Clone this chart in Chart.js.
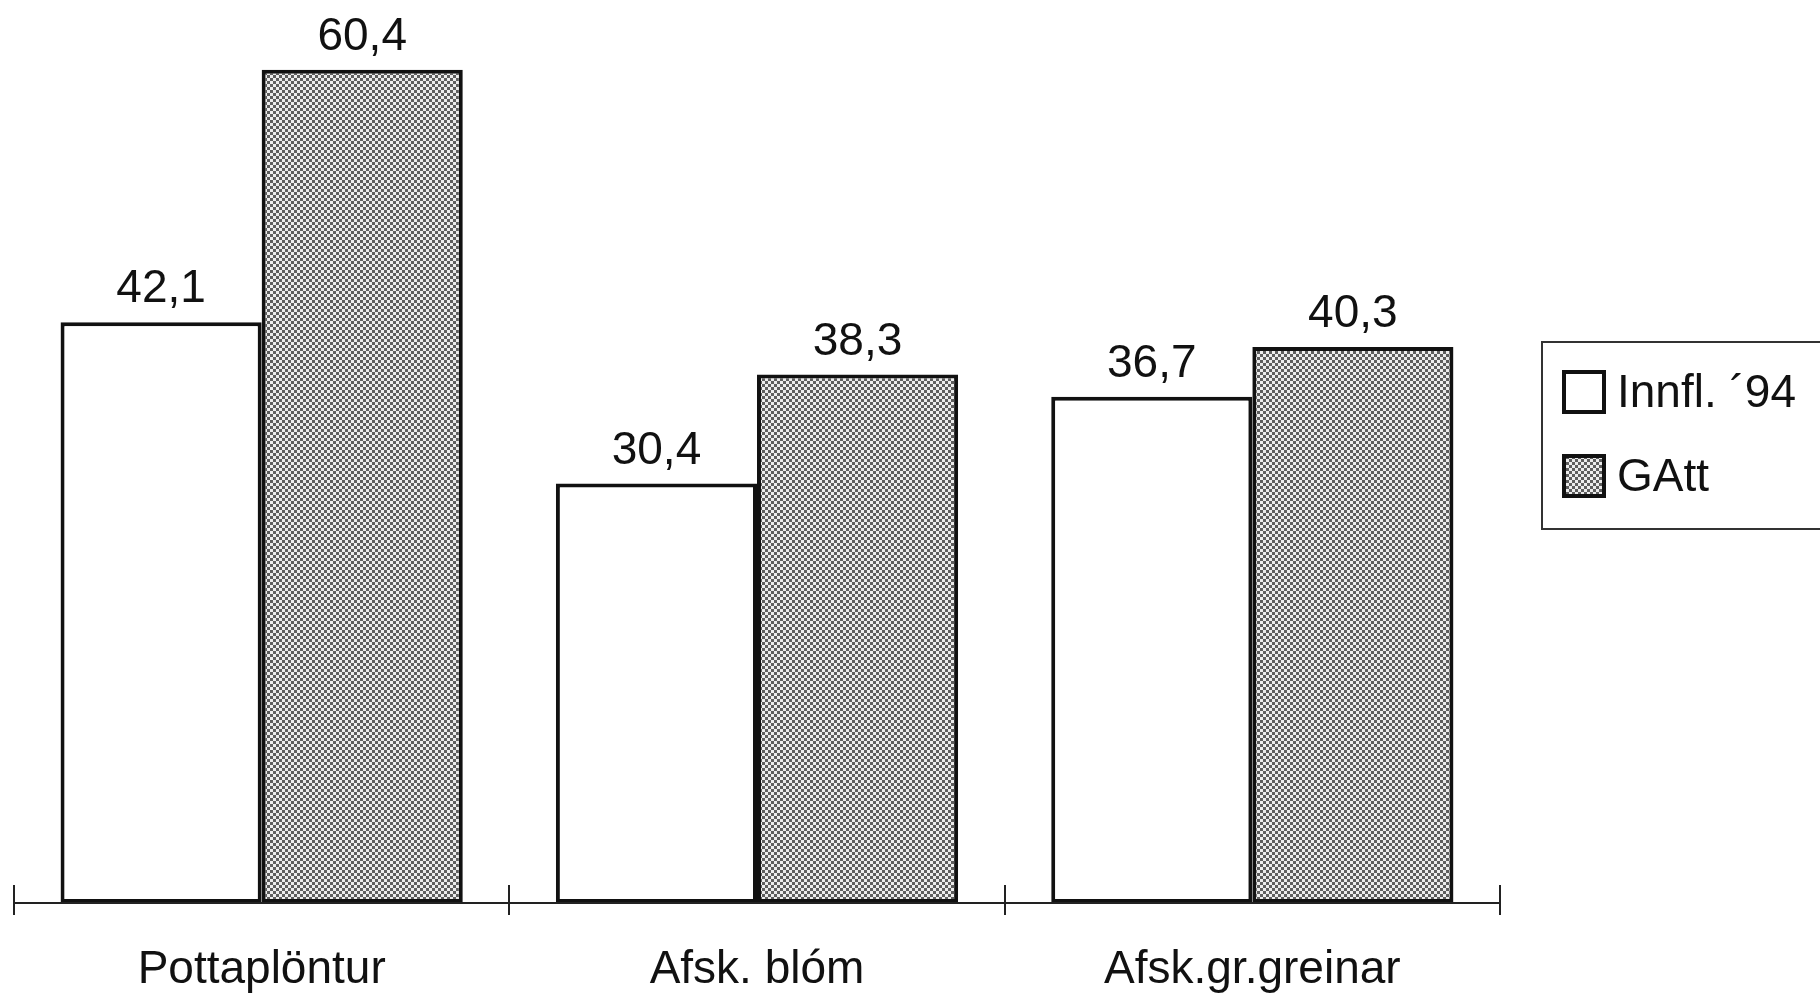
<!DOCTYPE html>
<html lang="is">
<head>
    <meta charset="UTF-8">
    <title>Pottaplöntur, Afsk. blóm, Afsk.gr.greinar</title>
    <script src="https://cdn.jsdelivr.net/npm/chart.js"></script>
    <style>
        body {
            margin: 0;
            padding: 0;
            background-color: #ffffff;
            overflow: hidden;
        }
        .wrap {
            position: relative;
            width: 1820px;
            height: 1001px;
        }
    </style>
</head>
<body>
<div class="wrap">
    <canvas id="tollChart"></canvas>
</div>
<script>
    // Gögn
    const categories = ['Pottaplöntur', 'Afsk. blóm', 'Afsk.gr.greinar'];
    const seriesNames = ['Innfl. \u00B494', 'GAtt'];
    const innfl94 = [42.1, 30.4, 36.7];
    const gatt = [60.4, 38.3, 40.3];

    const FONT = '"Liberation Sans", Arial, Helvetica, sans-serif';

    // punktamynstur fyrir gráu súlurnar
    function makePattern() {
        const c = document.createElement('canvas');
        c.width = 6;
        c.height = 6;
        const g = c.getContext('2d');
        g.fillStyle = '#ececec';
        g.fillRect(0, 0, 6, 6);
        g.fillStyle = '#5e5e5e';
        g.fillRect(0, 0, 3, 3);
        g.fillRect(3, 3, 3, 3);
        return g.createPattern(c, 'repeat');
    }
    const grayPattern = makePattern();

    const fmt = v => v.toFixed(1).replace('.', ',');

    // ás, merki, gildi og skýringar
    const decorations = {
        id: 'decorations',
        afterDatasetsDraw(chart) {
            const ctx = chart.ctx;
            const xs = chart.scales.x;
            const area = chart.chartArea;
            ctx.save();

            // gildi ofan á súlum
            ctx.fillStyle = '#111';
            ctx.font = '46px ' + FONT;
            ctx.textAlign = 'center';
            ctx.textBaseline = 'alphabetic';
            chart.data.datasets.forEach((ds, di) => {
                chart.getDatasetMeta(di).data.forEach((bar, i) => {
                    ctx.fillText(fmt(ds.data[i]), bar.x, bar.y - 20);
                });
            });

            // x-ás með merkjum á mörkum flokka
            ctx.strokeStyle = '#222';
            ctx.lineWidth = 2;
            ctx.beginPath();
            ctx.moveTo(area.left, area.bottom);
            ctx.lineTo(area.right, area.bottom);
            const half = (xs.getPixelForValue(1) - xs.getPixelForValue(0)) / 2;
            for (let i = 0; i <= categories.length; i++) {
                const x = Math.round(xs.getPixelForValue(0) - half + i * half * 2);
                ctx.moveTo(x, area.bottom - 18);
                ctx.lineTo(x, area.bottom + 12);
            }
            ctx.stroke();

            // skýringar
            const lx = 1542, ly = 342;
            ctx.lineWidth = 2;
            ctx.strokeStyle = '#333';
            ctx.strokeRect(lx, ly, 320, 187);
            ctx.font = '46px ' + FONT;
            ctx.textAlign = 'left';
            ctx.textBaseline = 'middle';
            chart.data.datasets.forEach((ds, di) => {
                const y = ly + 50 + di * 84;
                ctx.fillStyle = ds.backgroundColor;
                ctx.fillRect(lx + 22, y - 20, 40, 40);
                ctx.lineWidth = 4;
                ctx.strokeStyle = '#111';
                ctx.strokeRect(lx + 22, y - 20, 40, 40);
                ctx.fillStyle = '#111';
                ctx.fillText(ds.label, lx + 75, y + 2);
            });
            ctx.restore();
        }
    };

    const ctx = document.getElementById('tollChart').getContext('2d');
    const tollChart = new Chart(ctx, {
        type: 'bar',
        data: {
            labels: categories,
            datasets: [
                {
                    label: seriesNames[0],
                    data: innfl94,
                    backgroundColor: '#ffffff',
                    borderColor: '#111',
                    borderWidth: 4,
                    borderSkipped: false
                },
                {
                    label: seriesNames[1],
                    data: gatt,
                    backgroundColor: grayPattern,
                    borderColor: '#111',
                    borderWidth: 4,
                    borderSkipped: false
                }
            ]
        },
        options: {
            responsive: true,
            maintainAspectRatio: false,
            animation: false,
            datasets: {
                bar: {
                    categoryPercentage: 0.812,
                    barPercentage: 1.0
                }
            },
            layout: {
                padding: { left: 14, right: 320, top: 20, bottom: 0 }
            },
            plugins: {
                legend: { display: false },
                tooltip: { enabled: false }
            },
            scales: {
                x: {
                    grid: { display: false, drawTicks: false },
                    border: { display: false },
                    ticks: {
                        color: '#111',
                        padding: 40,
                        font: { family: FONT, size: 46 }
                    },
                    afterFit(scale) { scale.height = 98; }
                },
                y: {
                    display: false,
                    min: 0,
                    max: 64
                }
            }
        },
        plugins: [decorations]
    });
</script>
</body>
</html>
